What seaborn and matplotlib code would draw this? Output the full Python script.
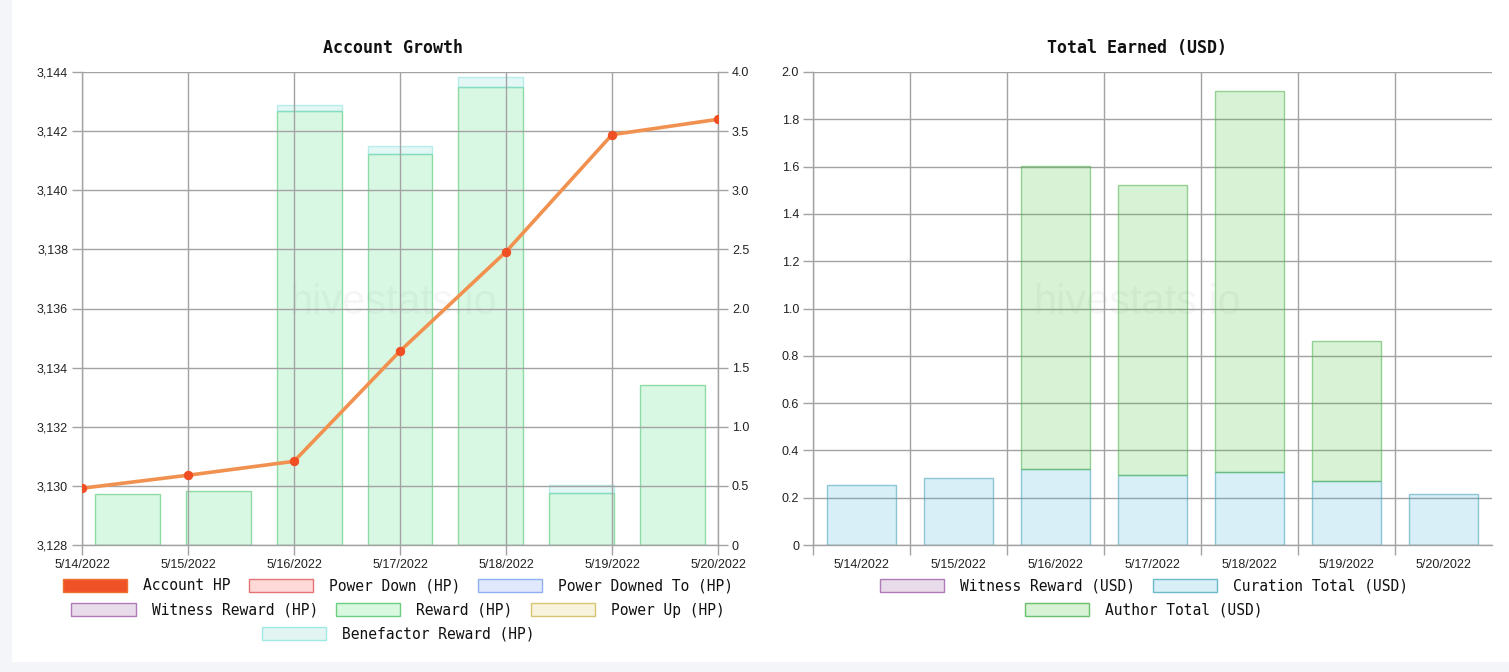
import matplotlib
matplotlib.use("Agg")
import matplotlib.pyplot as plt
from matplotlib.patches import Patch, Rectangle
from matplotlib.ticker import FuncFormatter, FixedLocator
import seaborn as sns
import numpy as np
import pandas as pd

# ---------------- data ----------------
dates = ["5/14/2022", "5/15/2022", "5/16/2022", "5/17/2022", "5/18/2022", "5/19/2022", "5/20/2022"]
account_hp = [3129.92, 3130.36, 3130.83, 3134.56, 3137.92, 3141.88, 3142.40]
reward_hp = [0.43, 0.46, 3.67, 3.31, 3.87, 0.44, 1.35]
benefactor_hp = [0.0, 0.0, 0.055, 0.06, 0.085, 0.065, 0.0]

curation_usd = [0.252, 0.282, 0.320, 0.298, 0.307, 0.269, 0.217]
author_usd = [0.0, 0.0, 1.282, 1.226, 1.612, 0.592, 0.0]

left_legend_rows = [
    [("Account HP", "#f05228", "#f07030"),
     ("Power Down (HP)", "#ffd8d8", "#e57373"),
     ("Power Downed To (HP)", "#e0e9fc", "#8fb0f0")],
    [("Witness Reward (HP)", "#e9dcea", "#b07ab8"),
     ("Reward (HP)", "#d8f8e0", "#6ccf80"),
     ("Power Up (HP)", "#f8f3dc", "#d6c672")],
    [("Benefactor Reward (HP)", "#e2f5f3", "#a0e8e4")],
]
right_legend_rows = [
    [("Witness Reward (USD)", "#e9dcea", "#b07ab8"),
     ("Curation Total (USD)", "#d8eff8", "#6bbac8")],
    [("Author Total (USD)", "#d8f2d6", "#6cc06c")],
]

# ---------------- style ----------------
sns.set_theme(style="white")
plt.rcParams["font.family"] = ["Liberation Sans", "DejaVu Sans"]
GRID = "#a3a3a3"
TICKC = "#222222"
MONO = ["DejaVu Sans Mono"]

W, H = 1509, 672
fig = plt.figure(figsize=(W / 100, H / 100), dpi=100)
fig.patch.set_facecolor("#f3f5f8")
fig.add_artist(Rectangle((12 / W, 10 / H), 1 - 12 / W, 1 - 10 / H,
                         transform=fig.transFigure, facecolor="white",
                         edgecolor="none", zorder=0))


def fx(px):
    return px / W


def fy(py):
    return 1 - py / H


# ---------------- left chart ----------------
lx0, lx1, ty, by = 82, 718, 72, 545
pos_left = [fx(lx0), fy(by), fx(lx1) - fx(lx0), fy(ty) - fy(by)]

axB = fig.add_axes(pos_left, zorder=1)
axB.patch.set_alpha(0)
df_l = pd.DataFrame({"date": dates, "reward": reward_hp, "benef": benefactor_hp})
sns.barplot(data=df_l, x="date", y="reward", ax=axB, width=0.715,
            color="#41dc73", saturation=1, edgecolor=(0.25, 0.75, 0.40, 0.55),
            linewidth=1)
for p in axB.patches:
    p.set_facecolor((0.255, 0.863, 0.451, 0.2))
xi = np.arange(len(dates))
mask = np.array(benefactor_hp) > 0
axB.bar(xi[mask], np.array(benefactor_hp)[mask], bottom=np.array(reward_hp)[mask],
        width=0.715, color=(0.45, 0.85, 0.82, 0.2), edgecolor=(0.5, 0.88, 0.86, 0.5),
        linewidth=1)
axB.set_xlim(-0.5, len(dates) - 0.5)
axB.set_ylim(0, 4)
axB.yaxis.tick_right()
axB.set_yticks(np.arange(0, 4.01, 0.5))
axB.yaxis.set_major_formatter(FuncFormatter(lambda v, _: "0" if v == 0 else f"{v:.1f}"))
axB.set_xticks([])
axB.set_xlabel("")
axB.set_ylabel("")
axB.tick_params(axis="y", which="major", length=7, width=1, color=GRID, pad=3,
                labelsize=9, labelcolor=TICKC, right=True, left=False)
for s in axB.spines.values():
    s.set_visible(False)

axL = fig.add_axes(pos_left, zorder=2)
axL.patch.set_alpha(0)
df_line = pd.DataFrame({"i": xi, "hp": account_hp})
sns.lineplot(data=df_line, x="i", y="hp", ax=axL, color="#f1914f", linewidth=2.6,
             marker="o", markersize=6, markerfacecolor="#f04e23",
             markeredgecolor="#f04e23", zorder=5)
axL.set_xlim(0, len(dates) - 1)
axL.set_ylim(3128, 3144)
axL.set_xticks(xi)
axL.set_xticklabels(dates)
axL.set_yticks(np.arange(3128, 3144.1, 2))
axL.yaxis.set_major_formatter(FuncFormatter(lambda v, _: f"{int(v):,}"))
axL.grid(True, color=GRID, linewidth=1)
axL.set_xlabel("")
axL.set_ylabel("")
axL.tick_params(axis="both", length=7, width=1, color=GRID, pad=3,
                labelsize=9, labelcolor=TICKC, left=True, bottom=True)
for name, s in axL.spines.items():
    s.set_color(GRID)
    s.set_linewidth(1)
    s.set_visible(name in ("left", "bottom", "right"))

# ---------------- right chart ----------------
rx0, rx1 = 813, 1492
pos_right = [fx(rx0), fy(by), fx(rx1) - fx(rx0), fy(ty) - fy(by)]
axR = fig.add_axes(pos_right, zorder=1)
axR.patch.set_alpha(0)
df_r = pd.DataFrame({"date": dates, "curation": curation_usd, "author": author_usd})
sns.barplot(data=df_r, x="date", y="curation", ax=axR, width=0.72,
            color="#3cafdc", saturation=1, edgecolor=(0.30, 0.65, 0.72, 0.6),
            linewidth=1)
for p in axR.patches:
    p.set_facecolor((0.235, 0.686, 0.863, 0.2))
am = np.array(author_usd) > 0
axR.bar(xi[am], np.array(author_usd)[am], bottom=np.array(curation_usd)[am],
        width=0.72, color=(0.235, 0.745, 0.196, 0.2),
        edgecolor=(0.35, 0.72, 0.35, 0.6), linewidth=1)
axR.set_xlim(-0.5, len(dates) - 0.5)
axR.set_ylim(0, 2.0)
axR.set_yticks(np.arange(0, 2.01, 0.2))
axR.yaxis.set_major_formatter(FuncFormatter(lambda v, _: "0" if abs(v) < 1e-9 else f"{v:.1f}"))
axR.set_xticks(xi)
axR.set_xticklabels(dates)
axR.xaxis.set_minor_locator(FixedLocator(np.arange(-0.5, len(dates) - 1, 1.0)))
axR.grid(True, axis="y", which="major", color=GRID, linewidth=1)
axR.grid(True, axis="x", which="minor", color=GRID, linewidth=1)
axR.grid(False, axis="x", which="major")
axR.set_axisbelow(True)
axR.set_xlabel("")
axR.set_ylabel("")
axR.tick_params(axis="x", which="major", length=0, pad=10, labelsize=9, labelcolor=TICKC)
axR.tick_params(axis="x", which="minor", length=7, width=1, color=GRID, bottom=True)
axR.tick_params(axis="y", length=7, width=1, color=GRID, pad=3, labelsize=9,
                labelcolor=TICKC, left=True)
for name, s in axR.spines.items():
    s.set_color(GRID)
    s.set_linewidth(1)
    s.set_visible(name in ("left", "bottom"))

# ---------------- titles & watermarks ----------------
fig.text(fx(393), fy(48), "Account Growth", ha="center", va="center",
         family=MONO, fontweight="bold", fontsize=12, color="#111111")
fig.text(fx(1137), fy(48), "Total Earned (USD)", ha="center", va="center",
         family=MONO, fontweight="bold", fontsize=12, color="#111111")
for cx in (393, 1137):
    fig.text(fx(cx), fy(303), "hivestats.io", ha="center", va="center",
             fontsize=30, color=(0, 0, 0, 0.035), zorder=0.5)


# ---------------- legends ----------------
def legend_row(items, cx, cy):
    handles = [Patch(facecolor=fc, edgecolor=ec, linewidth=1) for _, fc, ec in items]
    labels = [lab for lab, _, _ in items]
    leg = fig.legend(handles, labels, loc="center", bbox_to_anchor=(fx(cx), fy(cy)),
                     ncol=len(items), frameon=False, prop={"family": MONO, "size": 10.5},
                     handlelength=4.4, handleheight=1.0, handletextpad=1.1,
                     columnspacing=1.25, borderpad=0, borderaxespad=0)
    for t in leg.get_texts():
        t.set_color("#111111")
    return leg


for row, cy in zip(left_legend_rows, (586, 610, 634)):
    legend_row(row, 398, cy)
for row, cy in zip(right_legend_rows, (586, 610)):
    legend_row(row, 1144, cy)

fig.savefig("out.png", dpi=100, facecolor=fig.get_facecolor())
